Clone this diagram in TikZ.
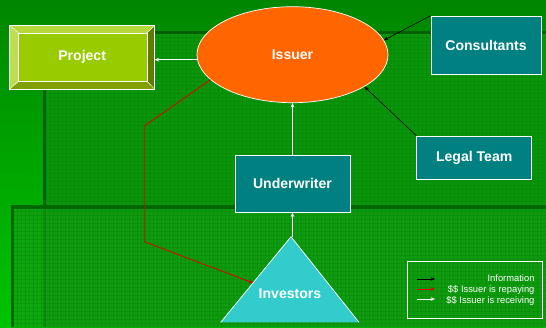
\documentclass[tikz,border=0pt]{standalone}
\usepackage{fontspec}
\setmainfont{Liberation Sans}
\usetikzlibrary{arrows.meta,calc,shapes.geometric}
\definecolor{bgtop}{HTML}{008600}
\definecolor{bgbot}{HTML}{00C400}
\definecolor{texA}{HTML}{0A960A}
\definecolor{texB}{HTML}{12A012}
\definecolor{gridc}{HTML}{006E00}
\definecolor{edgec}{HTML}{006000}
\definecolor{teal}{HTML}{008080}
\definecolor{orng}{HTML}{FF6600}
\definecolor{cyanT}{HTML}{33CCCC}
\definecolor{projF}{HTML}{99CC00}
\definecolor{bevT}{HTML}{B5D93C}
\definecolor{bevL}{HTML}{BCDD55}
\definecolor{bevR}{HTML}{5F7A00}
\definecolor{bevB}{HTML}{80A000}
\definecolor{redl}{HTML}{E00000}
\tikzset{
  tealbox/.style={draw=white, line width=0.6pt, fill=teal, text=white,
    font=\fontsize{12}{14}\selectfont\bfseries, inner sep=0pt},
  tip/.style={-{Stealth[length=3.8pt,width=3.2pt]}},
  wline/.style={tip, draw=white, line width=0.5pt},
  bline/.style={tip, draw=black, line width=0.5pt},
  rline/.style={tip, draw=redl, line width=0.7pt},
  legtext/.style={text=white, font=\fontsize{8}{9}\selectfont, anchor=east, inner sep=0pt}
}
\begin{document}
\begin{tikzpicture}[x=0.03cm,y=-0.03cm]
\useasboundingbox (0,0) rectangle (546,327);
% background
\shade[top color=bgtop, bottom color=bgbot] (0,0) rectangle (546,327);
% texture area 1
\fill[texA] (44,31) rectangle (546,327);
\begin{scope}
\clip (44,31) rectangle (546,327);
\foreach \x in {46,50,...,546} \draw[gridc, opacity=0.22, line width=0.3pt] (\x,31) -- (\x,327);
\foreach \y in {33,37,...,327} \draw[gridc, opacity=0.22, line width=0.3pt] (44,\y) -- (546,\y);
\end{scope}
\fill[edgec] (43,31) rectangle (546,34);
\fill[edgec] (43,31) rectangle (46,327);
% texture area 2
\fill[texB, opacity=0.75] (11,205) rectangle (546,327);
\begin{scope}
\clip (11,205) rectangle (546,327);
\foreach \x in {13,17,...,546} \draw[gridc, opacity=0.22, line width=0.3pt] (\x,205) -- (\x,327);
\foreach \y in {207,211,...,327} \draw[gridc, opacity=0.22, line width=0.3pt] (11,\y) -- (546,\y);
\end{scope}
\fill[edgec, opacity=0.85] (11,205) rectangle (546,209);
\fill[edgec, opacity=0.85] (11,205) rectangle (14,327);

% Project (bevelled box)
\node[draw=white, line width=0.6pt, minimum width=4.33cm, minimum height=1.89cm, inner sep=0pt] (proj) at (82.15,57.2) {};
\coordinate (oa) at (proj.north west);
\coordinate (ob) at (proj.north east);
\coordinate (oc) at (proj.south east);
\coordinate (od) at (proj.south west);
\coordinate (ia) at ($(oa)+(9,7.6)$);
\coordinate (ib) at ($(ob)+(-7.6,7.6)$);
\coordinate (ic) at ($(oc)+(-7.6,-7.7)$);
\coordinate (id) at ($(od)+(9,-7.7)$);
\fill[bevT] (oa) -- (ob) -- (ib) -- (ia) -- cycle;
\fill[bevR] (ob) -- (oc) -- (ic) -- (ib) -- cycle;
\fill[bevB] (oc) -- (od) -- (id) -- (ic) -- cycle;
\fill[bevL] (od) -- (oa) -- (ia) -- (id) -- cycle;
\fill[projF] (ia) rectangle (ic);
\draw[white, line width=0.6pt] (oa) rectangle (oc);
\draw[white, line width=0.6pt] (ia) rectangle (ic);
\draw[white, line width=0.4pt] (oa) -- (ia) (ob) -- (ib) (oc) -- (ic) (od) -- (id);
\node[text=white, font=\fontsize{12}{14}\selectfont\bfseries] at (proj.center) {Project};

% Issuer
\node[draw=white, line width=0.6pt, fill=orng, ellipse, minimum width=5.73cm, minimum height=2.88cm, inner sep=0pt,
  text=white, font=\fontsize{12}{14}\selectfont\bfseries] (iss) at (292.5,54.7) {Issuer};

% boxes
\node[tealbox, minimum width=3.3cm, minimum height=1.74cm] (cons) at (486,45) {Consultants};
\node[tealbox, minimum width=3.45cm, minimum height=1.29cm] (legal) at (474.2,157.5) {Legal Team};
\node[tealbox, minimum width=3.45cm, minimum height=1.71cm] (uw) at (292.5,183.7) {Underwriter};

% Investors triangle
\coordinate (invtop) at (291,236.7);
\coordinate (invbl) at (220.7,322.3);
\coordinate (invbr) at (359,322.3);
\fill[cyanT] (invtop) -- (invbl) -- (invbr) -- cycle;
\draw[white, line width=0.6pt] (invbl) -- (invtop) -- (invbr);
\node[text=white, font=\fontsize{12}{14}\selectfont\bfseries] (inv) at (290,293.3) {Investors};

% connectors
\draw[wline] (iss.183) -- (iss.183 -| proj.east);
\draw[wline] (uw.north) -- (iss.south);
\draw[wline] (uw.south |- invtop) -- (uw.south);
\draw[bline] (cons.north west) -- (iss.9.5);
\draw[bline] (legal.north west) -- (iss.-24.5);
\coordinate (r1) at (144.3,126);
\coordinate (r2) at (144.3,241.7);
\coordinate (rend) at ($(invtop)!0.54!(invbl)$);
\draw[rline] (iss.197) -- (r1) -- (r2) -- (rend);

% legend
\node[draw=white, line width=0.6pt, minimum width=4.05cm, minimum height=1.71cm, inner sep=0pt] (leg) at (474.5,289.5) {};
\coordinate (la1) at (417,279); \coordinate (lb1) at (435,279);
\coordinate (la2) at (417,289); \coordinate (lb2) at (435,289);
\coordinate (la3) at (417,299); \coordinate (lb3) at (435,299);
\draw[bline] (la1) -- (lb1);
\draw[rline, line width=0.5pt] (la2) -- (lb2);
\draw[wline] (la3) -- (lb3);
\node[legtext] (t1) at (534.7,278.5) {Information};
\node[legtext] (t2) at (534.7,289.5) {\$\$ Issuer is repaying};
\node[legtext] (t3) at (534.7,300.5) {\$\$ Issuer is receiving};
\end{tikzpicture}
\end{document}
